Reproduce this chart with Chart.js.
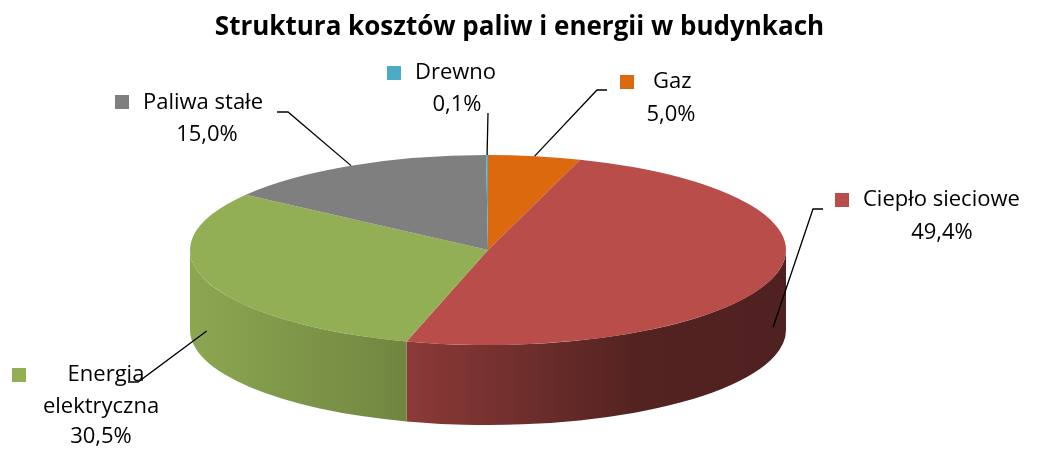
<!DOCTYPE html>
<html lang="pl">
<head>
<meta charset="utf-8">
<title>Struktura kosztów paliw i energii w budynkach</title>
<script src="https://cdn.jsdelivr.net/npm/chart.js@4.4.0/dist/chart.umd.min.js"></script>
<style>
  html, body { margin: 0; padding: 0; background: #fff; }
  #wrap { width: 1053px; height: 450px; }
</style>
</head>
<body>
<div id="wrap"><canvas id="kosztyChart" width="1053" height="450"></canvas></div>
<script>
const categories = ['Gaz', 'Ciepło sieciowe', 'Energia elektryczna', 'Paliwa stałe', 'Drewno'];
const shares = [5.0, 49.4, 30.5, 15.0, 0.1];
const colors = ['#DC690D', '#B84D4A', '#93AF55', '#7F7F7F', '#4BACC6'];

// ellipse the flat pie gets projected onto, plus wall height
const PIE = { cx: 488, cy: 250, rx: 298, ry: 95, depth: 80 };
const FONT = '22px "Open Sans"';

// where each label block sits and the leader elbow next to it
const labelLayout = [
  { sq: [620, 75], name: [653, 82, 'left'], value: [671, 115], leader: [[607, 90], [597, 90]] },
  { sq: [835, 193], name: [863, 200, 'left'], value: [942, 233], leader: [[823, 209], [813, 209]] },
  { sq: [12, 368], wrap: [[106, 375], [101, 407]], value: [101, 437], leader: [[128, 382], [138, 382]] },
  { sq: [115, 95], name: [143, 103, 'left'], value: [207, 135], leader: [[277, 112], [288, 112]] },
  { sq: [387, 66], name: [415, 73, 'left'], value: [457, 105], leader: [[488, 113]] }
];

function pct(v) { return v.toFixed(1).replace('.', ',') + '%'; }

function shade(hex, f) {
  const n = parseInt(hex.slice(1), 16);
  const r = Math.round(((n >> 16) & 255) * f);
  const g = Math.round(((n >> 8) & 255) * f);
  const b = Math.round((n & 255) * f);
  return `rgb(${r},${g},${b})`;
}

function wallGradient(ctx, hex) {
  const g = ctx.createLinearGradient(PIE.cx - PIE.rx, 0, PIE.cx + PIE.rx, 0);
  [[0, 0.95], [0.33, 0.78], [0.75, 0.45], [1, 0.43]].forEach(([p, f]) => g.addColorStop(p, shade(hex, f)));
  return g;
}

// squash the pie into an ellipse and put the front walls under it
const pie3d = {
  id: 'pie3d',
  beforeDatasetsDraw(chart) {
    const ctx = chart.ctx;
    const arcs = chart.getDatasetMeta(0).data;
    arcs.forEach((arc, i) => {
      const a = Math.max(arc.startAngle, 0);
      const b = Math.min(arc.endAngle, Math.PI);
      if (b <= a) return;
      ctx.beginPath();
      ctx.ellipse(PIE.cx, PIE.cy, PIE.rx, PIE.ry, 0, a, b);
      ctx.ellipse(PIE.cx, PIE.cy + PIE.depth, PIE.rx, PIE.ry, 0, b, a, true);
      ctx.closePath();
      ctx.fillStyle = wallGradient(ctx, colors[i]);
      ctx.fill();
    });
    const a0 = arcs[0];
    ctx.save();
    ctx.translate(PIE.cx, PIE.cy);
    ctx.scale(PIE.rx / a0.outerRadius, PIE.ry / a0.outerRadius);
    ctx.translate(-a0.x, -a0.y);
  },
  afterDatasetsDraw(chart) {
    chart.ctx.restore();
  }
};

// category labels with legend squares and leader lines
const pieLabels = {
  id: 'pieLabels',
  afterDraw(chart) {
    const ctx = chart.ctx;
    const arcs = chart.getDatasetMeta(0).data;
    ctx.save();
    ctx.font = FONT;
    ctx.fillStyle = '#000';
    ctx.textBaseline = 'middle';
    labelLayout.forEach((lay, i) => {
      const arc = arcs[i];
      const mid = (arc.startAngle + arc.endAngle) / 2;
      let ax = PIE.cx + PIE.rx * Math.cos(mid);
      let ay = PIE.cy + PIE.ry * Math.sin(mid);
      if (Math.sin(mid) > 0.2) ay += PIE.depth * 0.62;

      ctx.strokeStyle = '#000';
      ctx.lineWidth = 1.3;
      ctx.beginPath();
      lay.leader.forEach(([x, y], k) => (k ? ctx.lineTo(x, y) : ctx.moveTo(x, y)));
      ctx.lineTo(ax, ay);
      ctx.stroke();

      ctx.fillStyle = colors[i];
      ctx.fillRect(lay.sq[0], lay.sq[1], 14, 14);
      ctx.fillStyle = '#000';
      if (lay.wrap) {
        ctx.textAlign = 'center';
        categories[i].split(' ').forEach((w, k) => ctx.fillText(w, lay.wrap[k][0], lay.wrap[k][1]));
      } else {
        ctx.textAlign = lay.name[2];
        ctx.fillText(categories[i], lay.name[0], lay.name[1]);
      }
      ctx.textAlign = 'center';
      ctx.fillText(pct(shares[i]), lay.value[0], lay.value[1]);
    });
    ctx.restore();
  }
};

new Chart(document.getElementById('kosztyChart'), {
  type: 'pie',
  data: {
    labels: categories,
    datasets: [{
      data: shares,
      backgroundColor: colors,
      borderWidth: 0,
      clip: false
    }]
  },
  options: {
    responsive: false,
    devicePixelRatio: 1,
    animation: false,
    events: [],
    layout: { padding: { right: 14 } },
    plugins: {
      legend: { display: false },
      tooltip: { enabled: false },
      title: {
        display: true,
        text: 'Struktura kosztów paliw i energii w budynkach',
        color: '#000',
        font: { family: '"Open Sans"', size: 26, weight: 'bold' },
        padding: { top: 12, bottom: 10 }
      }
    }
  },
  plugins: [pie3d, pieLabels]
});
</script>
</body>
</html>
